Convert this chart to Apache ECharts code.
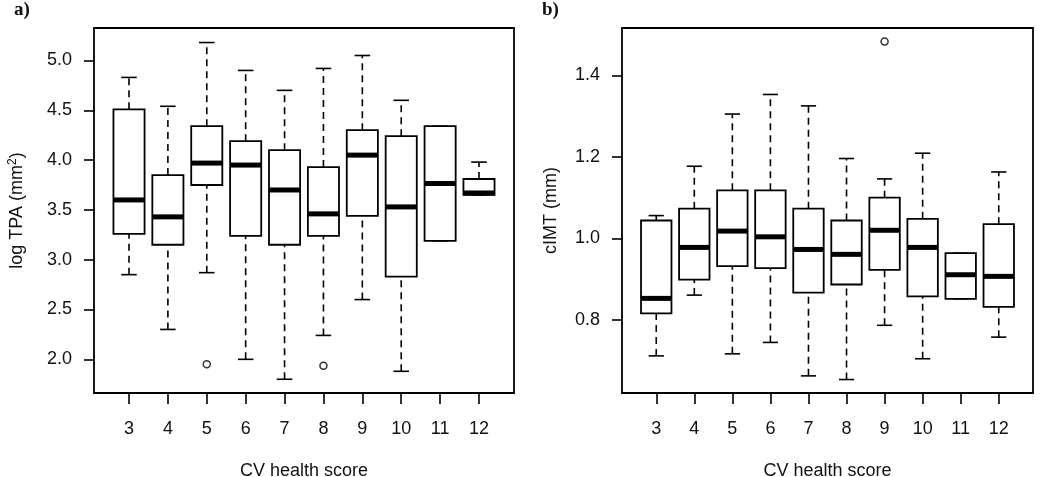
<!DOCTYPE html>
<html>
<head>
<meta charset="utf-8">
<script src="https://cdn.jsdelivr.net/npm/echarts@6/dist/echarts.min.js"></script>
<style>
html,body{margin:0;padding:0;background:#fff;}
#chart{width:1050px;height:477px;}
</style>
</head>
<body>
<div id="chart"></div>
<script>
// ---- data ----
const scores = [3, 4, 5, 6, 7, 8, 9, 10, 11, 12];

// Panel a) log TPA (mm^2)
const tpaLow  = [2.85, 2.30, 2.87, 2.00, 1.80, 2.24, 2.60, 1.88, 3.19, 3.65];
const tpaQ1   = [3.26, 3.15, 3.75, 3.24, 3.15, 3.24, 3.44, 2.83, 3.19, 3.65];
const tpaMed  = [3.60, 3.43, 3.97, 3.95, 3.70, 3.46, 4.05, 3.53, 3.765, 3.67];
const tpaQ3   = [4.51, 3.85, 4.34, 4.19, 4.10, 3.93, 4.30, 4.24, 4.34, 3.81];
const tpaHigh = [4.83, 4.54, 5.18, 4.90, 4.70, 4.92, 5.05, 4.60, 4.34, 3.98];
const tpaOutScore = [5, 8];
const tpaOutValue = [1.95, 1.935];
const tpaTicks = [2.0, 2.5, 3.0, 3.5, 4.0, 4.5, 5.0];

// Panel b) cIMT (mm)
const cimtLow  = [0.712, 0.861, 0.717, 0.745, 0.663, 0.654, 0.787, 0.705, 0.852, 0.758];
const cimtQ1   = [0.816, 0.899, 0.932, 0.927, 0.867, 0.887, 0.923, 0.858, 0.852, 0.832];
const cimtMed  = [0.853, 0.978, 1.018, 1.004, 0.973, 0.961, 1.020, 0.978, 0.911, 0.907];
const cimtQ3   = [1.044, 1.073, 1.118, 1.118, 1.073, 1.044, 1.100, 1.048, 0.964, 1.035];
const cimtHigh = [1.056, 1.177, 1.305, 1.353, 1.325, 1.196, 1.146, 1.209, 0.964, 1.163];
const cimtOutScore = [9];
const cimtOutValue = [1.483];
const cimtTicks = [0.8, 1.0, 1.2, 1.4];

// ---- build ----
function rows(lo, q1, md, q3, hi) {
  return scores.map((s, i) => [s, lo[i], q1[i], md[i], q3[i], hi[i]]);
}
function renderBox(params, api) {
  const x = api.value(0);
  const lo = api.value(1), q1 = api.value(2), md = api.value(3), q3 = api.value(4), hi = api.value(5);
  const bw = api.size([0.8, 0])[0];
  const cw = bw * 0.5;
  const px = api.coord([x, md])[0];
  const Y = v => api.coord([x, v])[1];
  const ws = {stroke: '#000', lineWidth: 1.6, lineDash: [7, 5]};
  const ss = {stroke: '#000', lineWidth: 1.6};
  return {
    type: 'group',
    children: [
      {type: 'line', shape: {x1: px, y1: Y(q3), x2: px, y2: Y(hi)}, style: ws},
      {type: 'line', shape: {x1: px, y1: Y(lo), x2: px, y2: Y(q1)}, style: ws},
      {type: 'line', shape: {x1: px - cw / 2, y1: Y(hi), x2: px + cw / 2, y2: Y(hi)}, style: ss},
      {type: 'line', shape: {x1: px - cw / 2, y1: Y(lo), x2: px + cw / 2, y2: Y(lo)}, style: ss},
      {type: 'rect', shape: {x: px - bw / 2, y: Y(q3), width: bw, height: Y(q1) - Y(q3)},
        style: {fill: '#fff', stroke: '#000', lineWidth: 1.8}},
      {type: 'line', shape: {x1: px - bw / 2, y1: Y(md), x2: px + bw / 2, y2: Y(md)},
        style: {stroke: '#000', lineWidth: 5}}
    ]
  };
}

const FONT = '"Liberation Sans", Arial, sans-serif';
const txt = {color: '#111', fontFamily: FONT, fontSize: 18};

function xAxis(gi) {
  return {
    type: 'value', gridIndex: gi, min: 2.1, max: 12.9,
    name: 'CV health score', nameLocation: 'middle', nameGap: 69,
    nameTextStyle: txt,
    axisLine: {show: false},
    splitLine: {show: false},
    axisTick: {show: true, length: 11, lineStyle: {color: '#000', width: 1.6}, customValues: scores},
    axisLabel: Object.assign({margin: 27, customValues: scores}, txt)
  };
}
function yAxis(gi, min, max, ticks, name, gap, rich) {
  return {
    type: 'value', gridIndex: gi, min: min, max: max,
    name: name, nameLocation: 'middle', nameGap: gap,
    nameTextStyle: Object.assign({rich: rich || {}}, txt),
    axisLine: {show: false},
    splitLine: {show: false},
    axisTick: {show: true, length: 10, lineStyle: {color: '#000', width: 1.6}, customValues: ticks},
    axisLabel: Object.assign({margin: 22, customValues: ticks, formatter: v => v.toFixed(1)}, txt)
  };
}

const chart = echarts.init(document.getElementById('chart'), null, {renderer: 'canvas'});
chart.setOption({
  animation: false,
  backgroundColor: '#fff',
  grid: [
    {left: 94, top: 28, width: 420, height: 365, show: true, borderColor: '#000', borderWidth: 1.8, backgroundColor: 'transparent', outerBoundsMode: 'none', containLabel: false},
    {left: 622, top: 28, width: 411, height: 365, show: true, borderColor: '#000', borderWidth: 1.8, backgroundColor: 'transparent', outerBoundsMode: 'none', containLabel: false}
  ],
  xAxis: [xAxis(0), xAxis(1)],
  yAxis: [
    yAxis(0, 1.662, 5.326, tpaTicks, 'log TPA (mm{sup|2})', 67, {sup: {fontSize: 12, verticalAlign: 'top', color: '#111', fontFamily: FONT, padding: [0, 0, 8, 0]}}),
    yAxis(1, 0.621, 1.516, cimtTicks, 'cIMT (mm)', 62)
  ],
  graphic: [
    {type: 'text', left: 14, top: 1, style: {text: 'a)', font: 'bold 19px "Liberation Serif", serif', fill: '#111'}},
    {type: 'text', left: 542, top: 1, style: {text: 'b)', font: 'bold 19px "Liberation Serif", serif', fill: '#111'}}
  ],
  series: [
    {type: 'custom', xAxisIndex: 0, yAxisIndex: 0, renderItem: renderBox,
      encode: {x: 0, y: [1, 2, 3, 4, 5]}, data: rows(tpaLow, tpaQ1, tpaMed, tpaQ3, tpaHigh)},
    {type: 'scatter', xAxisIndex: 0, yAxisIndex: 0, symbol: 'circle', symbolSize: 7,
      itemStyle: {color: '#fff', borderColor: '#000', borderWidth: 1.5},
      data: tpaOutScore.map((s, i) => [s, tpaOutValue[i]])},
    {type: 'custom', xAxisIndex: 1, yAxisIndex: 1, renderItem: renderBox,
      encode: {x: 0, y: [1, 2, 3, 4, 5]}, data: rows(cimtLow, cimtQ1, cimtMed, cimtQ3, cimtHigh)},
    {type: 'scatter', xAxisIndex: 1, yAxisIndex: 1, symbol: 'circle', symbolSize: 7,
      itemStyle: {color: '#fff', borderColor: '#000', borderWidth: 1.5},
      data: cimtOutScore.map((s, i) => [s, cimtOutValue[i]])}
  ]
});
</script>
</body>
</html>
